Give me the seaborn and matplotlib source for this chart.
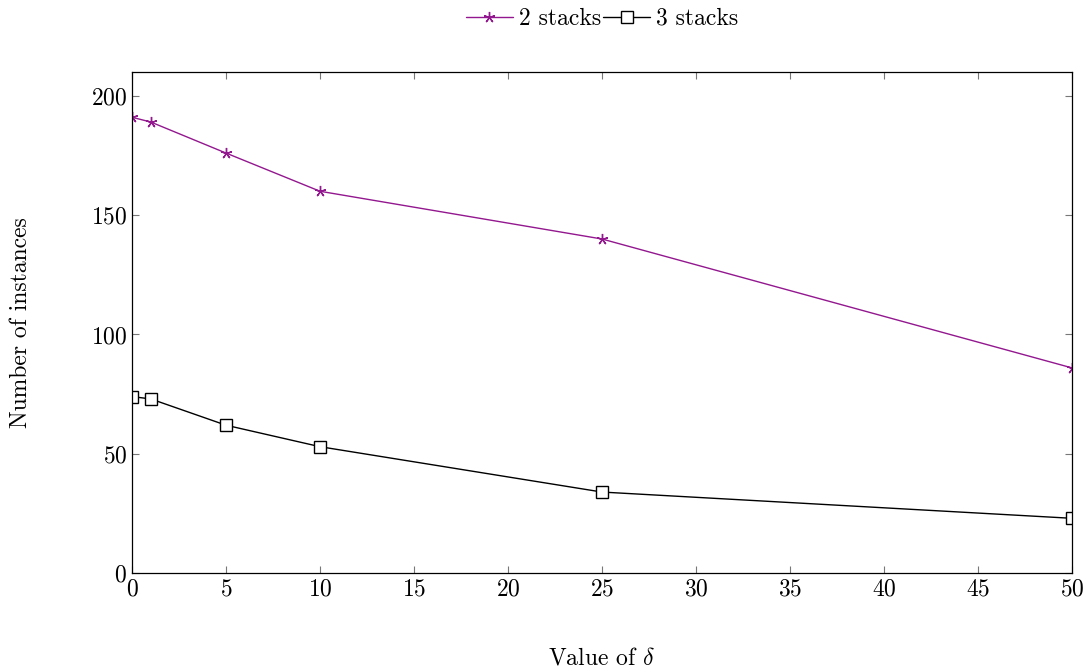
import numpy as np
import pandas as pd
import matplotlib
matplotlib.use("Agg")
import matplotlib.pyplot as plt
import seaborn as sns

# data
delta = [0, 1, 5, 10, 25, 50]
two_stacks = [191, 189, 176, 160, 140, 86]
three_stacks = [74, 73, 62, 53, 34, 23]
x_ticks = [0, 5, 10, 15, 20, 25, 30, 35, 40, 45, 50]
y_ticks = [0, 50, 100, 150, 200]

sns.set_theme(style="ticks")
plt.rcParams['font.family'] = ['cmr10', 'DejaVu Serif']
plt.rcParams['mathtext.fontset'] = 'cm'
plt.rcParams['axes.formatter.use_mathtext'] = True
plt.rcParams['text.color'] = 'black'
plt.rcParams['axes.labelcolor'] = 'black'

purple = '#93178f'
fs = 17

fig, ax = plt.subplots(figsize=(10.91, 6.72), dpi=100)
fig.subplots_adjust(left=0.121, right=0.9826, top=0.893, bottom=0.147)

df2 = pd.DataFrame({'delta': delta, 'n': two_stacks})
df3 = pd.DataFrame({'delta': delta, 'n': three_stacks})

sns.lineplot(data=df2, x='delta', y='n', ax=ax, color=purple, lw=1.0,
             marker=(5, 2, 0), markersize=8, markeredgewidth=1.0,
             markeredgecolor=purple, label='2 stacks')
sns.lineplot(data=df3, x='delta', y='n', ax=ax, color='black', lw=1.0,
             marker='s', markersize=8, markerfacecolor='white',
             markeredgewidth=1.0, markeredgecolor='black', label='3 stacks')

ax.set_xlim(0, 50)
ax.set_ylim(0, 210)
ax.set_xticks(x_ticks)
ax.set_yticks(y_ticks)
ax.tick_params(direction='in', length=5, width=0.8, colors='#777777',
               labelcolor='black', labelsize=fs, top=True, right=True)
for s in ax.spines.values():
    s.set_linewidth(0.9)
    s.set_color('black')

ax.set_xlabel(r'Value of $\delta$', fontsize=fs, labelpad=34)
ax.set_ylabel('Number of instances', fontsize=fs, labelpad=42)

# legend centred over the axes, near the top edge of the figure
ax.legend(loc='upper center', bbox_to_anchor=(0.5, 1 + 64 / 501),
          ncol=2, frameon=False,
          fontsize=fs, handlelength=2.0, handletextpad=0.25, columnspacing=0.1,
          borderaxespad=0, borderpad=0)

fig.savefig('out.png', dpi=100)
